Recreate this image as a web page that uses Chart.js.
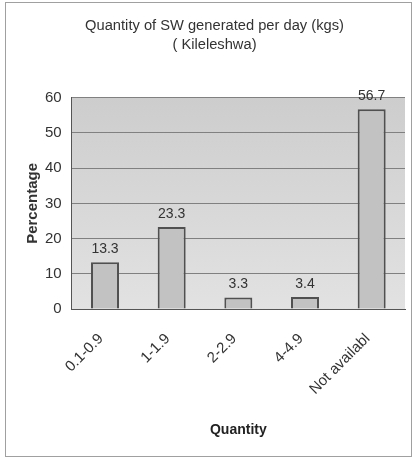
<!DOCTYPE html>
<html><head><meta charset="utf-8">
<script src="https://cdn.jsdelivr.net/npm/chart.js@4/dist/chart.umd.min.js"></script>
<style>html,body{margin:0;padding:0;background:#fff;}canvas{display:block;}</style>
</head><body>
<canvas id="c" width="418" height="459"></canvas>
<script>
const categories = ["0.1-0.9", "1-1.9", "2-2.9", "4-4.9", "Not availabl"];
const percentages = [13.3, 23.3, 3.3, 3.4, 56.7];
const yTicks = [0, 10, 20, 30, 40, 50, 60];
const titleLines = ["Quantity of SW generated per day (kgs)", "( Kileleshwa)"];
const xTitle = "Quantity";
const yTitle = "Percentage";

const frame = {
  id: 'frame',
  beforeDraw(chart) {
    const ctx = chart.ctx, a = chart.chartArea;
    ctx.save();
    ctx.fillStyle = '#fff';
    ctx.fillRect(0, 0, chart.width, chart.height);
    ctx.strokeStyle = '#a0a0a0';
    ctx.lineWidth = 1;
    ctx.strokeRect(5.5, 2.5, 406, 454);
    const g = ctx.createLinearGradient(0, a.top, 0, a.bottom);
    g.addColorStop(0, '#cdcdcd');
    g.addColorStop(1, '#e2e2e2');
    ctx.fillStyle = g;
    ctx.fillRect(a.left, a.top, a.right - a.left, a.bottom - a.top);
    ctx.restore();
  },
  afterDatasetsDraw(chart) {
    const ctx = chart.ctx;
    const meta = chart.getDatasetMeta(0);
    ctx.save();
    ctx.font = '14px "Liberation Sans", Arial, sans-serif';
    ctx.fillStyle = '#333';
    ctx.textAlign = 'center';
    ctx.textBaseline = 'bottom';
    meta.data.forEach((bar, i) => {
      ctx.fillText(String(percentages[i]), bar.x, bar.y - 6);
    });
    ctx.restore();
  }
};

new Chart(document.getElementById('c'), {
  type: 'bar',
  data: {
    labels: categories,
    datasets: [{
      data: percentages,
      backgroundColor: '#c2c2c2',
      borderColor: '#505050',
      borderWidth: 2,
      categoryPercentage: 0.42,
      barPercentage: 1.0
    }]
  },
  options: {
    responsive: false,
    animation: false,
    devicePixelRatio: 1,
    layout: { autoPadding: false, padding: { left: 24, right: 13, top: 8, bottom: 20 } },
    plugins: {
      legend: { display: false },
      tooltip: { enabled: false },
      title: {
        display: true,
        text: titleLines,
        color: '#333',
        font: { family: '"Liberation Sans", Arial, sans-serif', size: 14.7, weight: 'normal', lineHeight: 1.25 },
        padding: { top: 9, bottom: 44 }
      }
    },
    scales: {
      x: {
        grid: { display: false, drawTicks: false },
        border: { color: '#555', width: 1 },
        ticks: {
          autoSkip: false, maxRotation: 45, minRotation: 45,
          color: '#333', padding: 21, labelOffset: -4,
          font: { family: '"Liberation Sans", Arial, sans-serif', size: 15 }
        },
        title: {
          display: true, text: xTitle, color: '#222',
          font: { family: '"Liberation Sans", Arial, sans-serif', size: 14, weight: 'bold' },
          padding: { top: 3, bottom: 0 }
        }
      },
      y: {
        min: 0, max: 60,
        afterBuildTicks(axis) { axis.ticks = yTicks.map(v => ({ value: v })); },
        grid: { color: '#808080', lineWidth: 1, drawTicks: false },
        border: { color: '#555', width: 1 },
        ticks: {
          color: '#333', padding: 10,
          font: { family: '"Liberation Sans", Arial, sans-serif', size: 15 }
        },
        title: {
          display: true, text: yTitle, color: '#333',
          font: { family: '"Liberation Sans", Arial, sans-serif', size: 15, weight: 'bold' },
          padding: { top: 0, bottom: -7 }
        }
      }
    }
  },
  plugins: [frame]
});
</script>
</body></html>
